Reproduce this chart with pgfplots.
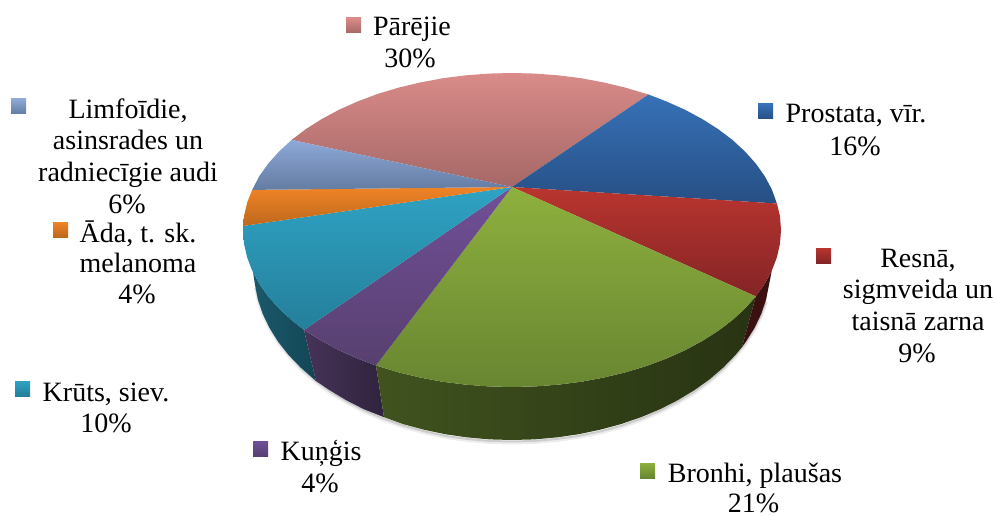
\documentclass[border=0pt]{standalone}
\usepackage{fontspec}
\setmainfont{Liberation Serif}
\usepackage{pgfplots}
\pgfplotsset{compat=1.18}

\definecolor{parT}{HTML}{D98B89}\definecolor{parB}{HTML}{A56866}
\definecolor{proT}{HTML}{3771B7}\definecolor{proB}{HTML}{264F84}
\definecolor{resT}{HTML}{B9352F}\definecolor{resB}{HTML}{842426}
\definecolor{broT}{HTML}{8DB03E}\definecolor{broB}{HTML}{688631}
\definecolor{kunT}{HTML}{714F98}\definecolor{kunB}{HTML}{57406F}
\definecolor{kruT}{HTML}{2FA2C4}\definecolor{kruB}{HTML}{247F9A}
\definecolor{adaT}{HTML}{F08326}\definecolor{adaB}{HTML}{BD691C}
\definecolor{limT}{HTML}{8EA9D8}\definecolor{limB}{HTML}{647CA2}

\newcommand{\lab}[3]{\node[anchor=base,inner sep=0pt,font=\fontsize{28}{30}\selectfont] at (axis cs:#1,#2) {#3};}

\begin{document}
\begin{tikzpicture}
\begin{axis}[
  scale only axis, width=995pt, height=516pt,
  xmin=0, xmax=995, ymin=0, ymax=516, y dir=reverse,
  hide axis, clip=false, no marks,
]
% soft shadow under the rim
\addplot[black, opacity=0.07, line width=4pt, line join=round] coordinates {(256,288) (259,302) (264,316) (271,330) (279.5,344) (290,357) (302,370) (316,382) (331,393) (348,403) (365.5,412) (384.5,420) (404.5,427) (425,432.5) (446,437) (468,440) (490,442) (512,442.5) (534,442) (556,440) (578,437) (600,432.5) (620.5,427) (640.5,420) (659.5,412) (677,403) (694,393) (709,382) (723,370) (735,357) (745.5,344) (754,330) (761,316) (766,302)};
\addplot[black, opacity=0.14, line width=2pt, line join=round] coordinates {(256,288) (259,301) (264,315) (271,329) (279.5,343) (290,356) (302,369) (316,381) (331,392) (348,402) (365.5,411) (384.5,419) (404.5,426) (425,431.5) (446,436) (468,439) (490,441) (512,441.5) (534,441) (556,439) (578,436) (600,431.5) (620.5,426) (640.5,419) (659.5,411) (677,402) (694,392) (709,381) (723,369) (735,356) (745.5,343) (754,329) (761,315) (766,301)};

% sides
\addplot[draw=none, left color=kruB!70!black, right color=kruB!55!black] coordinates {(304,330) (291.6,320.1) (279,308.5) (268.2,296.4) (259.2,283.7) (253,272) (255,284.8) (257.9,299.5) (262.8,314) (269.6,328.1) (278.2,341.8) (288.6,355) (300.7,367.5) (316,381)} --cycle;
\addplot[draw=none, left color=kunB!80!black, right color=kunB!55!black] coordinates {(304,330) (316,381) (329.6,390.2) (346.2,400.2) (364,409.3) (384,417.2) (376,365.5) (357.7,358.6) (339.1,350.3) (321.8,341)} --cycle;
\addplot[draw=none, left color=broB!62!black, right color=broB!38!black] coordinates {(376,365.5) (384,417.2) (403,424.1) (423.8,429.7) (445.2,434.2) (467.2,437.4) (489.5,439.4) (512,440) (534.5,439.4) (556.8,437.4) (578.8,434.2) (600.2,429.7) (621,424.1) (641,417.2) (660,409.3) (677.8,400.2) (694.4,390.2) (709.6,379.3) (723.3,367.5) (735.4,355) (742,347) (755.8,296.4) (745,308.5) (732.4,320.1) (718.1,330.9) (702.2,341) (684.9,350.3) (666.3,358.6) (646.5,366) (625.7,372.3) (604,377.5) (581.6,381.7) (558.7,384.6) (535.4,386.4) (512,387) (488.6,386.4) (465.3,384.6) (442.4,381.7) (420,377.5) (398.3,372.3)} --cycle;
\addplot[draw=none, fill=resB!45!black] coordinates {(755.8,296.4) (764.8,283.7) (771.8,270.6) (766.1,299.5) (761.2,314) (754.4,328.1) (745.8,341.8) (742,347)} --cycle;

% top surface, one polygon a slice
\addplot[draw=none, top color=parT, bottom color=parB] coordinates {(512,187) (648.5,94.5) (625.7,87.7) (604,82.5) (581.6,78.3) (558.7,75.4) (535.4,73.6) (512,73) (488.6,73.6) (465.3,75.4) (442.4,78.3) (420,82.5) (398.3,87.7) (377.5,94) (357.7,101.4) (339.1,109.7) (321.8,119) (305.9,129.1) (291.6,139.9)} --cycle;
\addplot[draw=none, top color=proT, bottom color=proB] coordinates {(512,187) (648.5,94.5) (666.3,101.4) (684.9,109.7) (702.2,119) (718.1,129.1) (732.4,139.9) (745,151.5) (755.8,163.6) (764.8,176.3) (771.8,189.4) (776.9,203.5)} --cycle;
\addplot[draw=none, top color=resT, bottom color=resB] coordinates {(512,187) (776.9,203.5) (780,216.3) (781,230) (780,243.7) (776.9,257.3) (771.8,270.6) (764.8,283.7) (755.8,296.4)} --cycle;
\addplot[draw=none, top color=broT, bottom color=broB] coordinates {(512,187) (755.8,296.4) (745,308.5) (732.4,320.1) (718.1,330.9) (702.2,341) (684.9,350.3) (666.3,358.6) (646.5,366) (625.7,372.3) (604,377.5) (581.6,381.7) (558.7,384.6) (535.4,386.4) (512,387) (488.6,386.4) (465.3,384.6) (442.4,381.7) (420,377.5) (398.3,372.3) (376,365.5)} --cycle;
\addplot[draw=none, top color=kunT, bottom color=kunB] coordinates {(512,187) (376,365.5) (357.7,358.6) (339.1,350.3) (321.8,341) (304,330)} --cycle;
\addplot[draw=none, top color=kruT, bottom color=kruB] coordinates {(512,187) (304,330) (291.6,320.1) (279,308.5) (268.2,296.4) (259.2,283.7) (252.2,270.6) (247.1,257.3) (244,243.7) (243,230) (243,226)} --cycle;
\addplot[draw=none, top color=adaT, bottom color=adaB] coordinates {(512,187) (243,226) (244,216.3) (247.1,202.7) (252.2,189.9)} --cycle;
\addplot[draw=none, top color=limT, bottom color=limB] coordinates {(512,187) (252.2,189.9) (259.2,176.3) (268.2,163.6) (279,151.5) (291.6,139.9)} --cycle;

% legend keys
\addplot[draw=none, top color=parT, bottom color=parB] coordinates {(346,18) (361,18) (361,33) (346,33)} --cycle;
\addplot[draw=none, top color=proT, bottom color=proB] coordinates {(758,104) (773,104) (773,119) (758,119)} --cycle;
\addplot[draw=none, top color=resT, bottom color=resB] coordinates {(816,248) (831,248) (831,263) (816,263)} --cycle;
\addplot[draw=none, top color=broT, bottom color=broB] coordinates {(640,463) (655,463) (655,478) (640,478)} --cycle;
\addplot[draw=none, top color=kunT, bottom color=kunB] coordinates {(253,441) (268,441) (268,456) (253,456)} --cycle;
\addplot[draw=none, top color=kruT, bottom color=kruB] coordinates {(15,381) (30,381) (30,396) (15,396)} --cycle;
\addplot[draw=none, top color=adaT, bottom color=adaB] coordinates {(53,222) (68,222) (68,237) (53,237)} --cycle;
\addplot[draw=none, top color=limT, bottom color=limB] coordinates {(11,99) (26,99) (26,114) (11,114)} --cycle;

% labels
\lab{412}{36}{Pārējie}
\lab{410}{68}{30\%}
\lab{856}{122}{Prostata, vīr.}
\lab{855}{155}{16\%}
\lab{918}{267}{Resnā,}
\lab{918}{298}{sigmveida un}
\lab{918}{330}{taisnā zarna}
\lab{917}{362}{9\%}
\lab{755}{482}{Bronhi, plaušas}
\lab{753.5}{512}{21\%}
\lab{321}{460}{Kuņģis}
\lab{320}{492}{4\%}
\lab{106}{401}{Krūts, siev.}
\lab{106}{432}{10\%}
\lab{138}{242}{Āda, t. sk.}
\lab{138}{272}{melanoma}
\lab{137}{303}{4\%}
\lab{128}{118}{Limfoīdie,}
\lab{128}{149}{asinsrades un}
\lab{128}{181}{radniecīgie audi}
\lab{127}{213}{6\%}
\end{axis}
\useasboundingbox (0,0) rectangle (995pt,516pt);
\end{tikzpicture}
\end{document}
